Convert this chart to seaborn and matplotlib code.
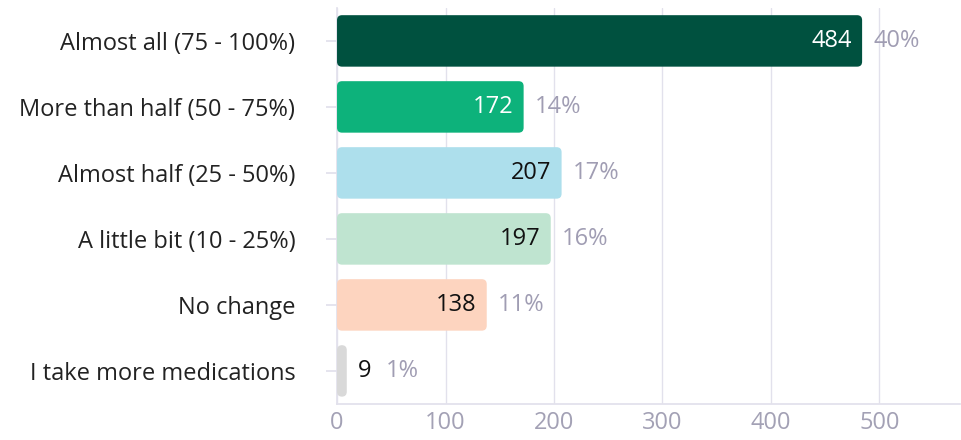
import matplotlib
matplotlib.use("Agg")
import matplotlib.pyplot as plt
from matplotlib.patches import FancyBboxPatch
import pandas as pd
import seaborn as sns

categories = [
    "Almost all (75 - 100%)",
    "More than half (50 - 75%)",
    "Almost half (25 - 50%)",
    "A little bit (10 - 25%)",
    "No change",
    "I take more medications",
]
counts = [484, 172, 207, 197, 138, 9]
percents = ["40%", "14%", "17%", "16%", "11%", "1%"]
colors = ["#00513f", "#0db27b", "#addfec", "#bfe4d0", "#fdd4bf", "#d9d9d9"]
value_colors = ["white", "white", "#111111", "#111111", "#111111", "#111111"]

df = pd.DataFrame({"answer": categories, "count": counts})

sns.set_theme(style="white")
plt.rcParams["font.family"] = ["Open Sans", "DejaVu Sans"]
FS = 17

fig = plt.figure(figsize=(9.61, 4.4), dpi=100)
ax = fig.add_axes([0.3507, 0.082, 0.648, 0.9])

sns.barplot(data=df, y="answer", x="count", hue="answer", palette=colors,
            saturation=1, legend=False, width=0.78, ax=ax, zorder=3)

ax.set_xlim(0, 574)
ax.set_ylim(5.5, -0.5)

# swap plain rectangles for rounded ones
px_x = 574 / (0.648 * 961)
px_y = 6 / (0.9 * 440)
for p in list(ax.patches):
    x, y = p.get_x(), p.get_y()
    w, h = p.get_width(), p.get_height()
    fc = p.get_facecolor()
    p.remove()
    ax.add_patch(FancyBboxPatch((x, y), w, h,
                                boxstyle=f"round,pad=0,rounding_size={5 * px_x}",
                                mutation_aspect=px_y / px_x,
                                facecolor=fc, edgecolor="none", zorder=3))

for i, (v, pct) in enumerate(zip(counts, percents)):
    if v > 40:
        ax.text(v - 10 * px_x, i, str(v), ha="right", va="center",
                color=value_colors[i], fontsize=FS, zorder=4)
        ax.text(v + 11 * px_x, i, pct, ha="left", va="center",
                color="#a09db3", fontsize=FS, zorder=4)
    else:
        ax.text(v + 11 * px_x, i, str(v), ha="left", va="center",
                color=value_colors[i], fontsize=FS, zorder=4)
        ax.text(v + 39 * px_x, i, pct, ha="left", va="center",
                color="#a09db3", fontsize=FS, zorder=4)

ax.set_xticks([0, 100, 200, 300, 400, 500])
ax.grid(axis="x", color="#e2e1ec", linewidth=1, zorder=0)
ax.grid(axis="y", visible=False)
ax.set_xlabel("")
ax.set_ylabel("")
for side in ["top", "right"]:
    ax.spines[side].set_visible(False)
ax.spines["left"].set_color("#e2e1ec")
ax.spines["bottom"].set_color("#e2e1ec")
ax.tick_params(axis="x", colors="#a3a1b5", labelsize=FS, length=0, pad=5)
ax.tick_params(axis="y", labelcolor="#222222", labelsize=FS, length=8,
               color="#e2e1ec", left=True, pad=22)

fig.savefig("out.png", dpi=100)
